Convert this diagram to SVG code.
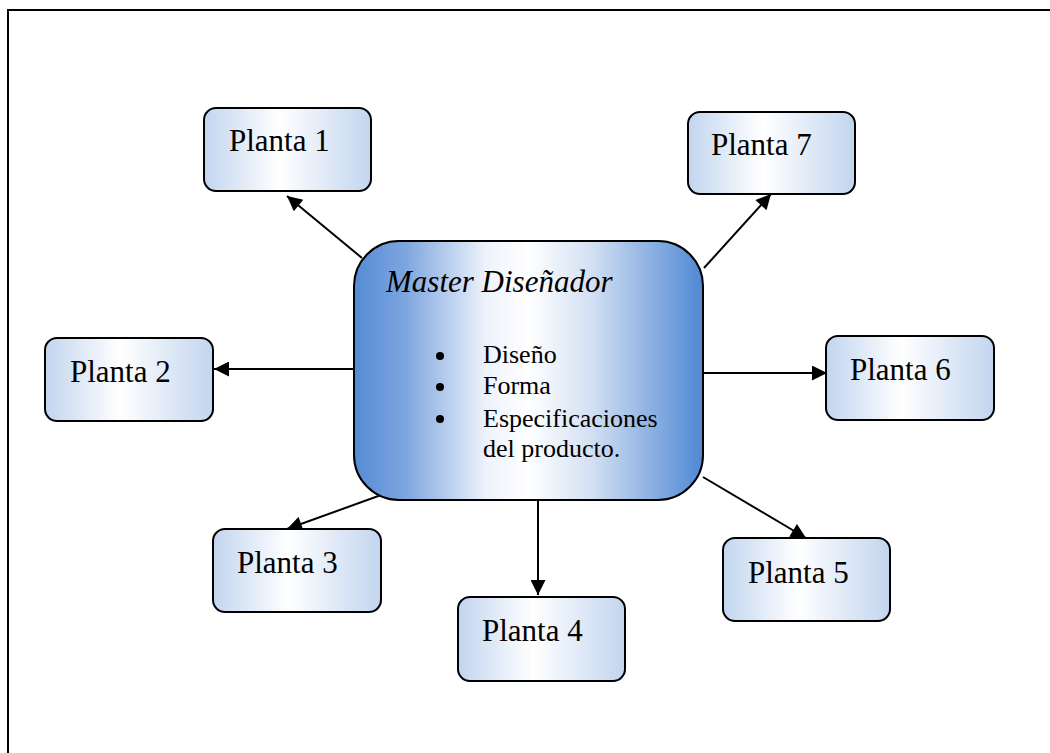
<svg xmlns="http://www.w3.org/2000/svg" width="1050" height="753" viewBox="0 0 1050 753">
<defs>
<linearGradient id="gBig" x1="0" y1="0" x2="1" y2="0">
<stop offset="0" stop-color="#558bd5"/>
<stop offset="0.15" stop-color="#7ea6df"/>
<stop offset="0.38" stop-color="#eef3fb"/>
<stop offset="0.5" stop-color="#ffffff"/>
<stop offset="0.68" stop-color="#d3e0f3"/>
<stop offset="1" stop-color="#4f88d4"/>
</linearGradient>
<linearGradient id="gSmall" x1="0" y1="0" x2="1" y2="0">
<stop offset="0" stop-color="#c2d5ef"/>
<stop offset="0.45" stop-color="#ffffff"/>
<stop offset="1" stop-color="#c2d5ef"/>
</linearGradient>
<marker id="arr" viewBox="0 0 10 10" refX="10" refY="5" markerWidth="8.5" markerHeight="7.5" markerUnits="strokeWidth" orient="auto">
<path d="M0,0 L10,5 L0,10 z" fill="#000"/>
</marker>
<style>
.small{fill:url(#gSmall);stroke:#000;stroke-width:2}
.big{fill:url(#gBig);stroke:#000;stroke-width:2}
.lbl{font-family:"Liberation Serif","Times New Roman",serif;font-size:31px;fill:#000}
.li{font-family:"Liberation Serif","Times New Roman",serif;font-size:26px;fill:#000}
.conn line{stroke:#000;stroke-width:2;marker-end:url(#arr)}
</style>
</defs>
<rect x="8" y="10" width="1070" height="770" fill="#fff" stroke="#000" stroke-width="2"/>
<g id="connectors" class="conn">
<line x1="362" y1="258" x2="287" y2="196"/>
<line x1="704" y1="268" x2="771" y2="194"/>
<line x1="354" y1="369" x2="214" y2="369"/>
<line x1="704" y1="373" x2="827" y2="373"/>
<line x1="395" y1="490" x2="287" y2="529"/>
<line x1="538" y1="500" x2="538" y2="595"/>
<line x1="703" y1="477" x2="806" y2="538"/>
</g>
<g id="master">
<rect class="big" x="354" y="241" width="349" height="259" rx="45"/>
<text x="386" y="292" class="lbl" style="font-style:italic">Master Diseñador</text>
<circle cx="440" cy="356" r="4"/>
<circle cx="440" cy="387" r="4"/>
<circle cx="440" cy="419" r="4"/>
<text x="483" y="363" class="li">Diseño</text>
<text x="483" y="394" class="li">Forma</text>
<text x="483" y="427" class="li">Especificaciones</text>
<text x="483" y="457" class="li">del producto.</text>
</g>
<g id="planta1"><rect class="small" x="204" y="108" width="167" height="83" rx="12"/><text x="229" y="151" class="lbl">Planta 1</text></g>
<g id="planta2"><rect class="small" x="45" y="338" width="168" height="83" rx="12"/><text x="70" y="382" class="lbl">Planta 2</text></g>
<g id="planta3"><rect class="small" x="213" y="529" width="168" height="83" rx="12"/><text x="237" y="573" class="lbl">Planta 3</text></g>
<g id="planta4"><rect class="small" x="458" y="597" width="167" height="84" rx="12"/><text x="482" y="641" class="lbl">Planta 4</text></g>
<g id="planta5"><rect class="small" x="723" y="538" width="167" height="83" rx="12"/><text x="748" y="583" class="lbl">Planta 5</text></g>
<g id="planta6"><rect class="small" x="826" y="336" width="168" height="84" rx="12"/><text x="850" y="380" class="lbl">Planta 6</text></g>
<g id="planta7"><rect class="small" x="688" y="112" width="167" height="82" rx="12"/><text x="711" y="155" class="lbl">Planta 7</text></g>
</svg>
